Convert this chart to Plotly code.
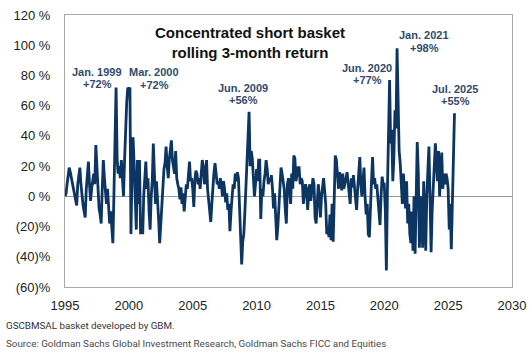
import plotly.graph_objects as go
import pandas as pd

# ---- data (monthly rolling 3-month return, %), Jan 1995 .. Jul 2025 ----
start_month = "1995-01-01"
returns = [
    0, 2, 8, 14, 19, 16, 12, 10, 4, 0, -3, -6,            # 1995
    8, 14, 19, 8, 0, -6, -10, -14, 5, 15, 23, 8,          # 1996
    -3, 5, 10, 15, 8, 34, 20, 0, -8, -12, -18, 5,         # 1997
    24, 12, 2, -5, 5, -12, -18, -10, -25, -31, 2, 40,     # 1998
    72, 24, 15, 20, 12, 24, 15, 0, 24, 45, 62, 72,        # 1999
    70, 72, -25, 15, 39, 20, -11, -22, 24, -5, 24, -25,   # 2000
    -20, -25, 0, 10, 23, 5, 12, -10, -22, 0, 10, 35,      # 2001
    15, -5, 10, 0, -15, -31, -20, -8, 10, 18, 22, 33,     # 2002
    20, 12, 24, 30, 37, 24, 20, 15, 30, 12, 8, 5,         # 2003
    -2, 6, -5, 2, -10, 0, 8, 5, 15, 23, 10, 12,           # 2004
    5, -7, 10, 17, 15, 8, 12, 5, 15, 24, 20, 8,           # 2005
    12, 24, 5, -3, -9, -17, -5, 10, 16, 22, 12, 8,        # 2006
    10, 5, 12, 8, 0, 10, 5, -4, 2, -9, -5, -23,           # 2007
    -10, 0, 8, 5, 15, 10, 16, 12, -5, -20, -45, -30,      # 2008
    -25, -10, 5, 15, 35, 56, 20, 30, 25, 10, 0, 8,        # 2009
    18, 10, 24, 24, -15, 5, 0, 10, 15, 24, 18, 8,         # 2010
    12, 10, 14, 5, -8, 2, -10, -29, -20, -5, 10, 19,      # 2011
    15, 10, 5, -9, -18, 8, 12, 5, -5, 15, 5, 27,          # 2012
    25, 10, 15, 19, 19, 8, 12, 10, -5, 2, 8, 5,           # 2013
    -9, 2, 8, -3, 5, 12, 8, -14, -18, 0, 8, 0,            # 2014
    -14, 0, 8, 12, 4, -5, -25, -20, -27, -12, -29, -5,    # 2015
    -30, 0, 27, 24, 12, 5, 16, 12, 4, 15, 5, 10,          # 2016
    12, 16, 8, 2, -5, 12, 6, 14, 5, -2, -9, 5,            # 2017
    19, 26, 8, 0, 10, 19, 0, -12, -5, -25, -27, 0,        # 2018
    10, 26, 8, 12, 5, 8, 0, -10, -19, 0, 13, 8,           # 2019
    8, -10, -49, 5, 40, 77, 35, 44, 10, 25, 57, 45,       # 2020
    98, 50, 30, 22, 5, -5, 15, 0, -8, 10, -18, -5,        # 2021
    -25, -31, -10, -36, 0, -38, 5, 36, 15, -34, -15, 0,   # 2022
    -34, 10, -15, -36, 0, 15, 33, 0, -37, -10, 10, 20,    # 2023
    35, 25, 10, 30, 0, 15, 29, 5, 15, 8, 15, 12,          # 2024
    5, -22, -5, -35, 0, 35, 55,                           # 2025
]
dates = pd.date_range(start_month, periods=len(returns), freq="MS")

y_tick_vals = [-60, -40, -20, 0, 20, 40, 60, 80, 100, 120]
y_tick_text = ["(60)%", "(40)%", "(20)%", "0 %", "20 %", "40 %", "60 %", "80 %", "100 %", "120 %"]
x_tick_years = [1995, 2000, 2005, 2010, 2015, 2020, 2025, 2030]

peak_dates = ["Jan. 1999", "Mar. 2000", "Jun. 2009", "Jun. 2020", "Jan. 2021", "Jul. 2025"]
peak_values = ["+72%", "+72%", "+56%", "+77%", "+98%", "+55%"]

title_text = "Concentrated short basket<br>rolling 3-month return"
footnote = "GSCBMSAL basket developed by GBM."
source = "Source: Goldman Sachs Global Investment Research, Goldman Sachs FICC and Equities"

# ---- layout geometry (pixels) ----
W, H = 530, 355
L, R, T, B = 65, 18, 15, 68
PW, PH = W - L - R, H - T - B


def px(x):
    return (x - L) / PW


def py(y):
    return (H - B - y) / PH


navy = "#0c3561"
label_col = "#2f4b6c"

fig = go.Figure()
fig.add_trace(go.Scatter(x=dates, y=returns, mode="lines",
                         line=dict(color=navy, width=2.8), hoverinfo="skip"))

fig.update_layout(
    width=W, height=H,
    margin=dict(l=L, r=R, t=T, b=B, autoexpand=False),
    paper_bgcolor="white", plot_bgcolor="white",
    showlegend=False,
    font=dict(family="Liberation Sans, Arial", size=13, color="#222222"),
)
fig.update_xaxes(
    type="date",
    range=["1995-01-01", "2030-01-01"],
    tickvals=[f"{y}-01-01" for y in x_tick_years],
    ticktext=[str(y) for y in x_tick_years],
    showgrid=False, zeroline=False,
    showline=True, mirror=True, linecolor="#a8a8a8", linewidth=1,
    ticks="", ticklabelstandoff=6,
    tickfont=dict(size=13, color="#222222"),
)
fig.update_yaxes(
    range=[-60, 120],
    tickvals=y_tick_vals, ticktext=y_tick_text,
    showgrid=False,
    zeroline=True, zerolinecolor="#9a9a9a", zerolinewidth=1,
    showline=True, mirror=True, linecolor="#a8a8a8", linewidth=1,
    ticks="", ticklabelstandoff=11,
    tickfont=dict(size=13, color="#222222"),
)

annotations = []
annotations.append(dict(text="<b>" + title_text + "</b>", x=px(250), y=py(43),
                        xref="paper", yref="paper", showarrow=False,
                        xanchor="center", yanchor="middle",
                        font=dict(size=15, color="#111111", family="Liberation Sans, Arial")))

label_pos = [(97, 72, 84), (154, 72, 85), (243, 88, 99.5), (367, 68, 80), (424, 35, 47.5), (455, 89, 101)]
for (cx, y1, y2), d, v in zip(label_pos, peak_dates, peak_values):
    annotations.append(dict(text="<b>" + d + "</b>", x=px(cx), y=py(y1), xref="paper", yref="paper",
                            showarrow=False, xanchor="center", yanchor="middle",
                            font=dict(size=11, color=label_col)))
    annotations.append(dict(text="<b>" + v + "</b>", x=px(cx), y=py(y2), xref="paper", yref="paper",
                            showarrow=False, xanchor="center", yanchor="middle",
                            font=dict(size=11, color=label_col)))

annotations.append(dict(text=footnote, x=px(4), y=py(325), xref="paper", yref="paper",
                        showarrow=False, xanchor="left", yanchor="middle",
                        font=dict(size=9.8, color="#333333", family="Roboto, Noto Sans")))
annotations.append(dict(text=source, x=px(4), y=py(343), xref="paper", yref="paper",
                        showarrow=False, xanchor="left", yanchor="middle",
                        font=dict(size=9.8, color="#4a4a4a", family="Roboto, Noto Sans")))
fig.update_layout(annotations=annotations)

fig.write_html("out.html", config={"displayModeBar": False},
               post_script="document.body.style.margin='0';")
